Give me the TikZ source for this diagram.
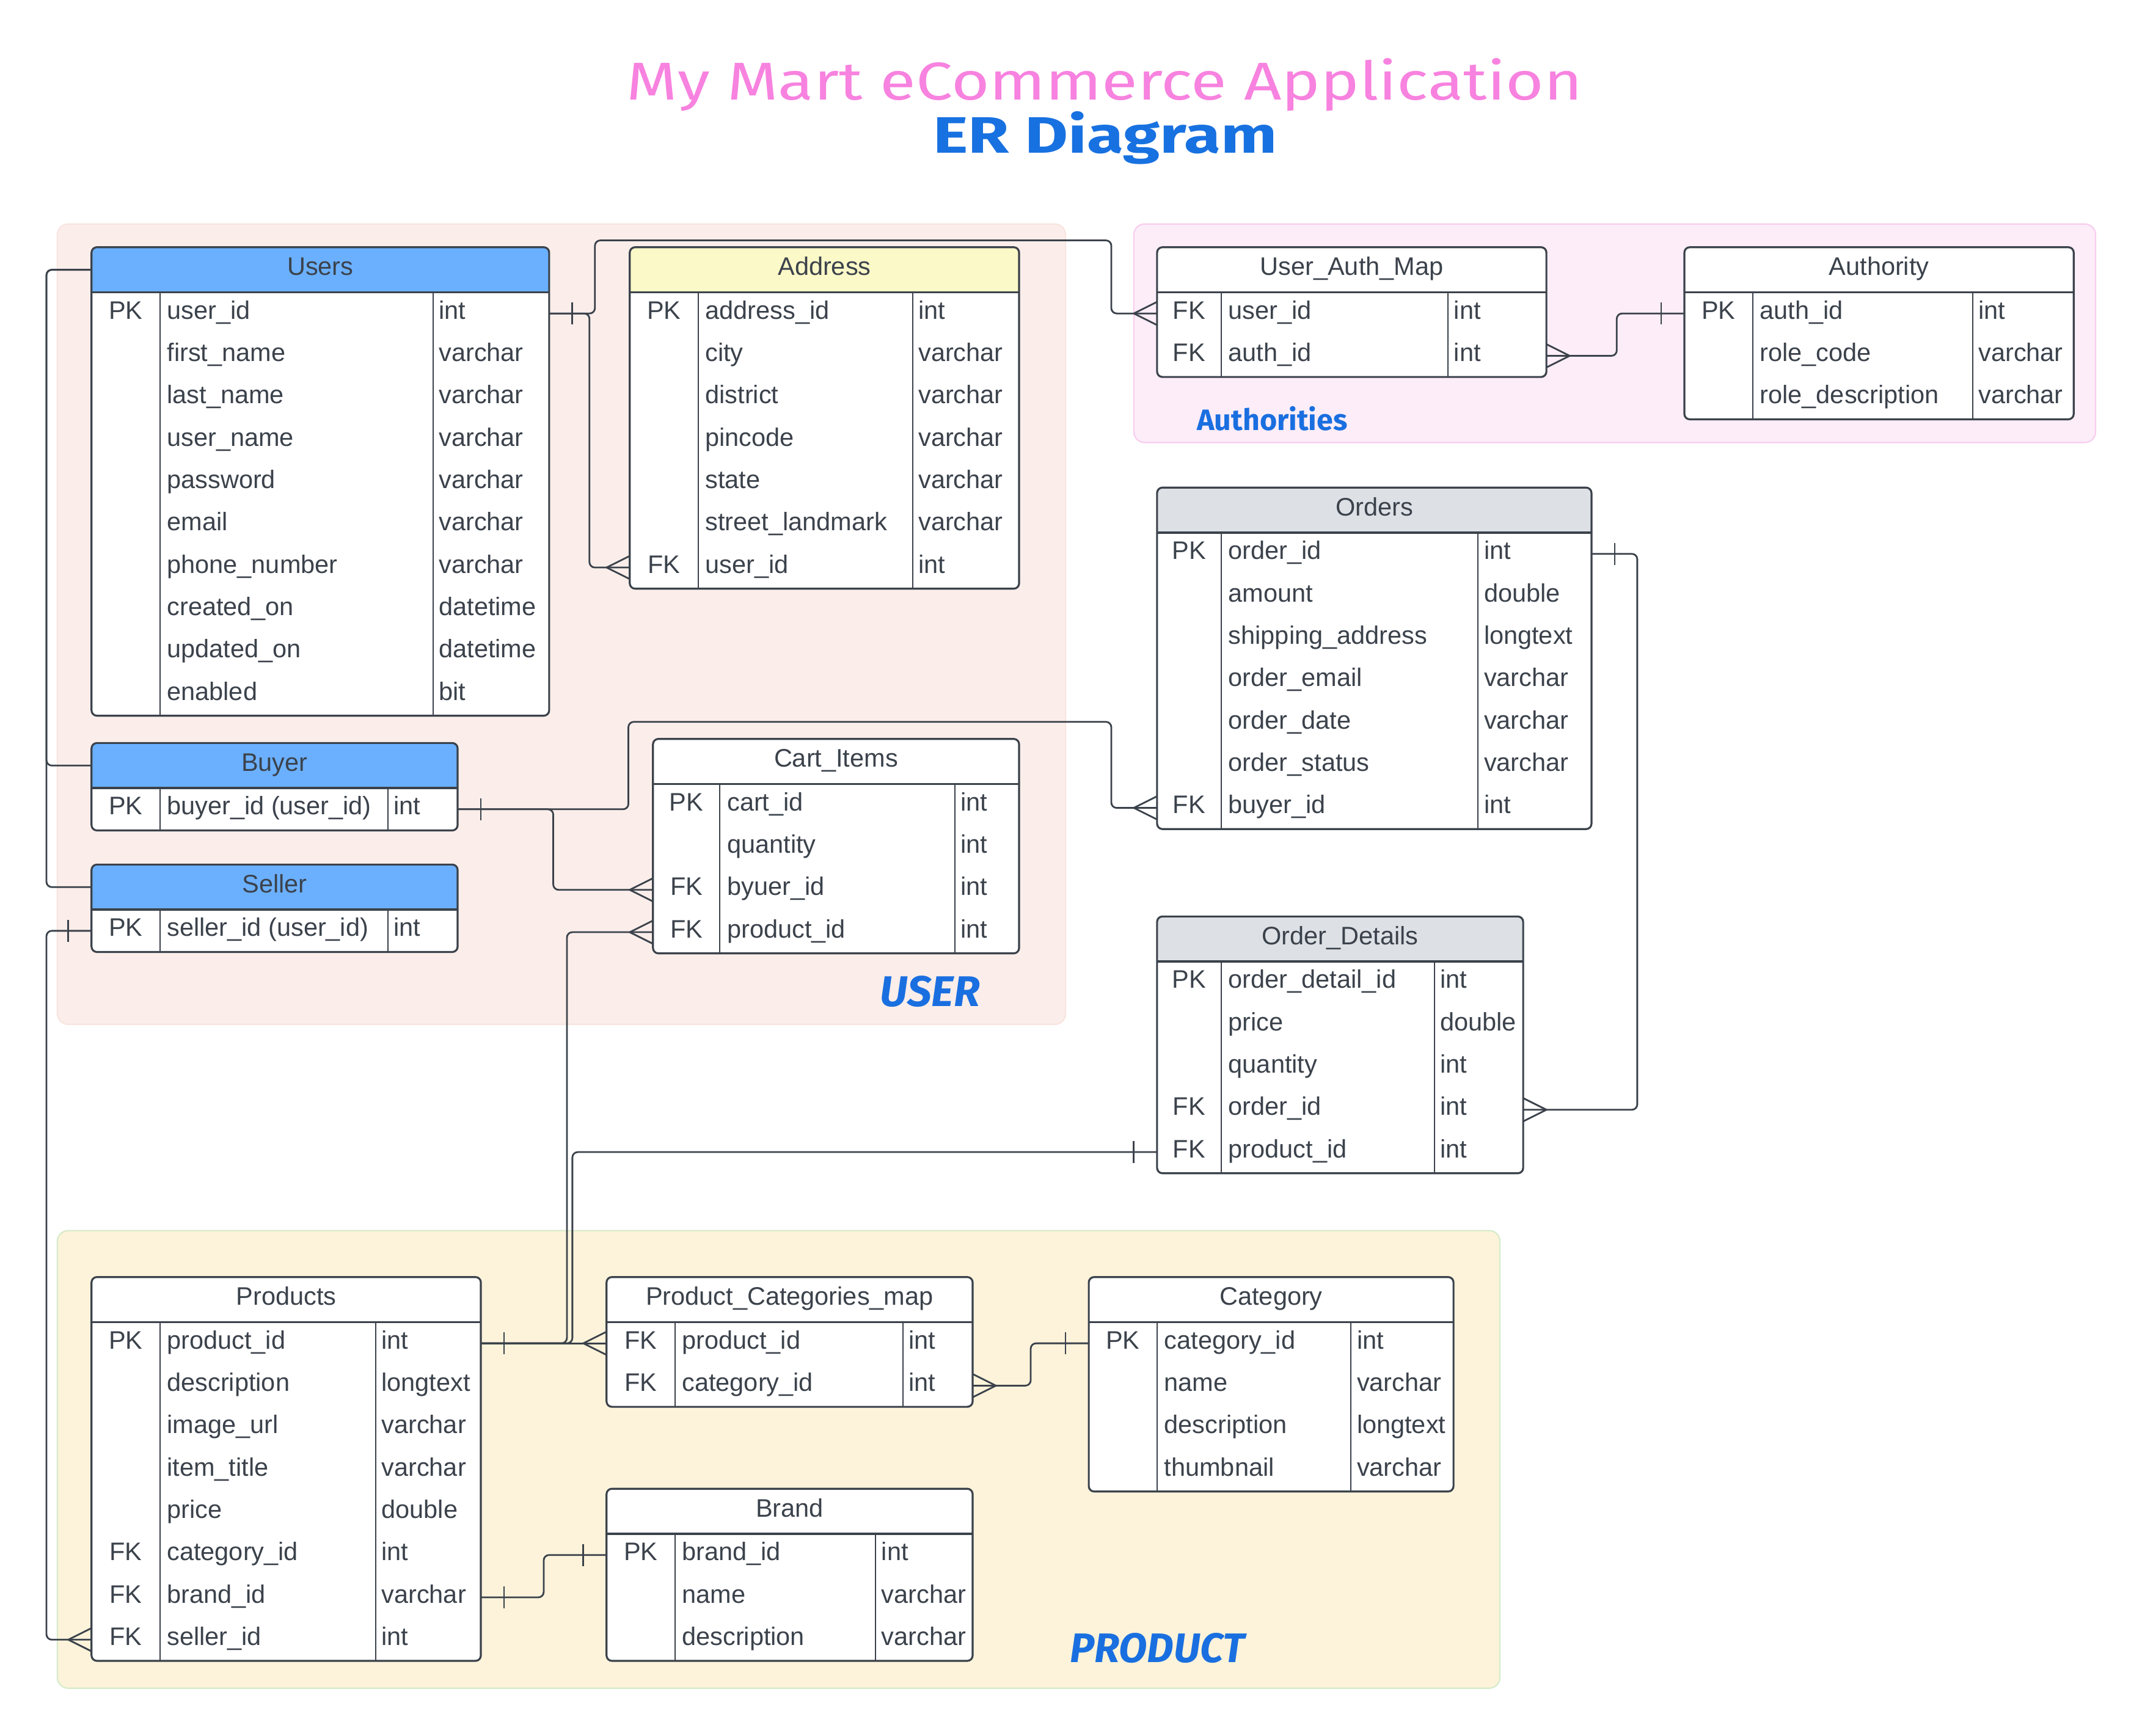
\documentclass[tikz,border=0pt]{standalone}
\usepackage{fontspec}
\setmainfont{Liberation Sans}
\newfontfamily\titlefont{Fira Sans}
\newfontfamily\grpfont{Fira Sans}
\usetikzlibrary{fit,calc}
\definecolor{ink}{HTML}{3B424B}
\definecolor{hdblue}{HTML}{6BB0FF}
\definecolor{hdyellow}{HTML}{FCF9C8}
\definecolor{hdgrey}{HTML}{DDE1E6}
\definecolor{grpuser}{HTML}{FBEEEA}
\definecolor{grpuserb}{HTML}{F8E4DF}
\definecolor{grpauth}{HTML}{FCEDF8}
\definecolor{grpauthb}{HTML}{F8CDEE}
\definecolor{grpprod}{HTML}{FCF3DA}
\definecolor{grpprodb}{HTML}{D5EBC8}
\definecolor{lblblue}{HTML}{1A6FE0}
\definecolor{titlepink}{HTML}{F782DF}
\definecolor{titleblue}{HTML}{1871E0}

\tikzset{
  conn/.style={draw=ink, line width=0.8pt, rounded corners=2.5pt},
  tick/.style={draw=ink, line width=0.8pt},
  fld/.style={inner sep=0pt, text=ink, font=\fontsize{11.8pt}{14pt}\selectfont, text height=0.72em, text depth=0.2em},
  grp/.style={rounded corners=5pt, line width=0.6pt},
}

% #1 name, #2 x1, #3 c1, #4 c2, #5 x2, #6 top, #7 rows, #8 header fill, #9 title
\newcommand\ertable[9]{%
  \pgfmathsetmacro\hb{#6+33}%
  \pgfmathsetmacro\bt{#6+33+31*#7}%
  \fill[white, rounded corners=2.5pt] (#2,#6) rectangle (#5,\bt);
  \begin{scope}
    \clip[rounded corners=2.5pt] (#2,#6) rectangle (#5,\bt);
    \fill[#8] (#2,#6) rectangle (#5,\hb);
  \end{scope}
  \draw[ink, line width=1.1pt] (#2,\hb) -- (#5,\hb);
  \draw[ink, line width=0.6pt] (#3,\hb) -- (#3,\bt) (#4,\hb) -- (#4,\bt);
  \draw[ink, line width=0.9pt, rounded corners=2.5pt] (#2,#6) rectangle (#5,\bt);
  \node[fit={(#2,#6) (#5,\bt)}, inner sep=0pt] (#1) {};
  \node[fld] (#1-title) at ({(#2+#5)/2},{#6+16.5}) {#9};
  \coordinate (#1-h-w) at (#2,{#6+16.5});
  \foreach \ka/\na/\ta [count=\i] in \tabrows {%
    \pgfmathsetmacro\yy{\hb+31*\i-15.5}%
    \node[fld] (#1-k\i) at ({(#2+#3)/2},\yy) {\ka};
    \node[fld,anchor=west] (#1-n\i) at ({#3+5},\yy) {\na};
    \node[fld,anchor=west] (#1-t\i) at ({#4+4},\yy) {\ta};
    \coordinate (#1-\i-w) at (#2,\yy);
    \coordinate (#1-\i-e) at (#5,\yy);
  }%
}
\newcommand\barW[1]{\draw[tick] (#1) ++(-17,-8) -- ++(0,16);}
\newcommand\barE[1]{\draw[tick] (#1) ++(17,-8) -- ++(0,16);}
\newcommand\crowW[1]{\draw[tick] (#1) ++(-17,0) -- ++(17,-8.5) (#1) ++(-17,0) -- ++(17,8.5);}
\newcommand\crowE[1]{\draw[tick] (#1) ++(17,0) -- ++(-17,-8.5) (#1) ++(17,0) -- ++(-17,8.5);}

\begin{document}
\begin{tikzpicture}[x=0.02236cm, y=-0.02236cm]
\useasboundingbox (0,0) rectangle (1568,1271);
\fill[white] (0,0) rectangle (1568,1271);

% groups
\filldraw[grp, fill=grpuser, draw=grpuserb] (42,164) rectangle (780,750);
\filldraw[grp, fill=grpauth, draw=grpauthb] (830,164) rectangle (1534,324);
\filldraw[grp, fill=grpprod, draw=grpprodb] (42,901) rectangle (1098,1236);

% title
\node[anchor=base, text=titlepink, inner sep=0pt] (title1) at (808.5,73)
  {\resizebox{15.64cm}{0.68cm}{\titlefont\fontsize{27pt}{30pt}\selectfont My Mart eCommerce Application}};
\node[anchor=base, text=titleblue, inner sep=0pt] (title2) at (809,112)
  {\resizebox{5.63cm}{0.68cm}{\titlefont\fontsize{27pt}{30pt}\selectfont\bfseries ER Diagram}};

% group labels
\node[anchor=base west, text=lblblue, inner sep=0pt] (lbluser) at (644,737)
  {\resizebox{1.63cm}{!}{\grpfont\bfseries\itshape USER}};
\node[anchor=base west, text=lblblue, inner sep=0pt] (lblauth) at (876,315)
  {\resizebox{2.46cm}{!}{\grpfont\bfseries Authorities}};
\node[anchor=base west, text=lblblue, inner sep=0pt] (lblprod) at (783,1217)
  {\resizebox{2.86cm}{!}{\grpfont\bfseries\itshape PRODUCT}};

% tables
\def\tabrows{PK/user\_id/int, /first\_name/varchar, /last\_name/varchar, /user\_name/varchar, /password/varchar, /email/varchar, /phone\_number/varchar, /created\_on/datetime, /updated\_on/datetime, /enabled/bit}
\ertable{users}{67}{117}{317}{402}{181}{10}{hdblue}{Users}

\def\tabrows{PK/address\_id/int, /city/varchar, /district/varchar, /pincode/varchar, /state/varchar, /street\_landmark/varchar, FK/user\_id/int}
\ertable{address}{461}{511}{668}{746}{181}{7}{hdyellow}{Address}

\def\tabrows{FK/user\_id/int, FK/auth\_id/int}
\ertable{uam}{847}{894}{1060}{1132}{181}{2}{white}{User\_Auth\_Map}

\def\tabrows{PK/auth\_id/int, /role\_code/varchar, /role\_description/varchar}
\ertable{auth}{1233}{1283}{1444}{1518}{181}{3}{white}{Authority}

\def\tabrows{PK/order\_id/int, /amount/double, /shipping\_address/longtext, /order\_email/varchar, /order\_date/varchar, /order\_status/varchar, FK/buyer\_id/int}
\ertable{orders}{847}{894}{1082}{1165}{357}{7}{hdgrey}{Orders}

\def\tabrows{PK/order\_detail\_id/int, /price/double, /quantity/int, FK/order\_id/int, FK/product\_id/int}
\ertable{od}{847}{894}{1050}{1115}{671}{5}{hdgrey}{Order\_Details}

\def\tabrows{PK/buyer\_id (user\_id)/int}
\ertable{buyer}{67}{117}{284}{335}{544}{1}{hdblue}{Buyer}

\def\tabrows{PK/seller\_id (user\_id)/int}
\ertable{seller}{67}{117}{284}{335}{633}{1}{hdblue}{Seller}

\def\tabrows{PK/cart\_id/int, /quantity/int, FK/byuer\_id/int, FK/product\_id/int}
\ertable{cart}{478}{527}{699}{746}{541}{4}{white}{Cart\_Items}

\def\tabrows{PK/product\_id/int, /description/longtext, /image\_url/varchar, /item\_title/varchar, /price/double, FK/category\_id/int, FK/brand\_id/varchar, FK/seller\_id/int}
\ertable{products}{67}{117}{275}{352}{935}{8}{white}{Products}

\def\tabrows{FK/product\_id/int, FK/category\_id/int}
\ertable{pcm}{444}{494}{661}{712}{935}{2}{white}{Product\_Categories\_map}

\def\tabrows{PK/category\_id/int, /name/varchar, /description/longtext, /thumbnail/varchar}
\ertable{category}{797}{847}{989}{1064}{935}{4}{white}{Category}

\def\tabrows{PK/brand\_id/int, /name/varchar, /description/varchar}
\ertable{brand}{444}{494}{641}{712}{1090}{3}{white}{Brand}

% connectors
\draw[conn] (users-1-e) -- ++(29.5,0) |- (address-7-w);
\draw[conn] (users-1-e) -- ++(33.5,0) |- (813.5,176) |- (uam-1-w);
\draw[conn] (auth-1-w) -- ++(-49.5,0) |- (uam-2-e);
\draw[conn] (users-h-w) -- ++(-33,0) |- (buyer-h-w);
\draw[conn] (users-h-w) -- ++(-33,0) |- (seller-h-w);
\draw[conn] (buyer-1-e) -- ++(70,0) |- (cart-3-w);
\draw[conn] (buyer-1-e) -- ++(125,0) |- (813.5,528.5) |- (orders-7-w);
\draw[conn] (seller-1-w) -- ++(-33,0) |- (products-8-w);
\draw[conn] (products-1-e) -- (pcm-1-w);
\draw[conn] (products-1-e) -- ++(63,0) |- (cart-4-w);
\draw[conn] (products-1-e) -- ++(67,0) |- (od-5-w);
\draw[conn] (pcm-2-e) -- ++(42.5,0) |- (category-1-w);
\draw[conn] (products-7-e) -- ++(46,0) |- (brand-1-w);
\draw[conn] (orders-1-e) -- ++(33.5,0) |- (od-4-e);

% cardinality marks
\barE{users-1-e}
\crowW{address-7-w}
\crowW{uam-1-w}
\barW{auth-1-w}
\crowE{uam-2-e}
\barE{buyer-1-e}
\crowW{cart-3-w}
\crowW{orders-7-w}
\barW{seller-1-w}
\crowW{products-8-w}
\barE{products-1-e}
\crowW{pcm-1-w}
\crowW{cart-4-w}
\barW{od-5-w}
\crowE{pcm-2-e}
\barW{category-1-w}
\barE{products-7-e}
\barW{brand-1-w}
\barE{orders-1-e}
\crowE{od-4-e}
\end{tikzpicture}
\end{document}
